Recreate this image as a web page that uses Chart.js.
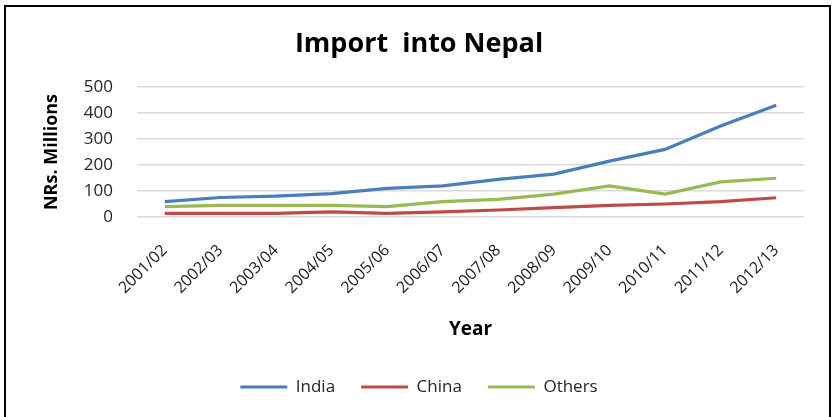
<!DOCTYPE html>
<html>
<head>
<meta charset="utf-8">
<script src="https://cdn.jsdelivr.net/npm/chart.js@4"></script>
<style>
  html, body { margin: 0; padding: 0; background: #fff; }
  #wrap { position: relative; width: 832px; height: 417px; overflow: hidden; }
  #frame { position: absolute; left: 4px; top: 5px; width: 823px; height: 430px; border: 2px solid #000; pointer-events: none; box-sizing: content-box; }
  canvas { position: absolute; left: 0; top: 0; }
</style>
</head>
<body>
<div id="wrap">
  <canvas id="c" width="832" height="417"></canvas>
  <div id="frame"></div>
</div>
<script>
const categories = ['2001/02','2002/03','2003/04','2004/05','2005/06','2006/07','2007/08','2008/09','2009/10','2010/11','2011/12','2012/13'];
const india  = [59, 75, 80, 90, 110, 120, 145, 165, 215, 260, 350, 430];
const china  = [14, 14, 14, 20, 14, 20, 27, 36, 45, 50, 59, 74];
const others = [40, 45, 45, 45, 40, 59, 68, 88, 120, 88, 135, 149];
const yTicks = [0, 100, 200, 300, 400, 500];

const FONT = "'Open Sans', 'Liberation Sans', sans-serif";

new Chart(document.getElementById('c'), {
  type: 'line',
  data: {
    labels: categories,
    datasets: [
      { label: 'India', data: india, borderColor: '#4A7EBB', backgroundColor: '#4A7EBB', borderWidth: 3.2, pointRadius: 0, tension: 0 },
      { label: 'China', data: china, borderColor: '#BE4B48', backgroundColor: '#BE4B48', borderWidth: 3.2, pointRadius: 0, tension: 0 },
      { label: 'Others', data: others, borderColor: '#98B954', backgroundColor: '#98B954', borderWidth: 3.2, pointRadius: 0, tension: 0 }
    ]
  },
  options: {
    responsive: false,
    animation: false,
    layout: { padding: { left: 34, right: 28, top: 0, bottom: 11.5 } },
    plugins: {
      title: {
        display: true,
        text: 'Import  into Nepal',
        color: '#000',
        font: { family: FONT, size: 27, weight: 'bold', lineHeight: 1.2 },
        padding: { top: 27.8, bottom: 26.8 }
      },
      legend: {
        position: 'bottom',
        labels: {
          usePointStyle: true,
          pointStyle: 'line',
          pointStyleWidth: 47,
          padding: 26,
          color: '#262626',
          font: { family: FONT, size: 17 }
        }
      },
      tooltip: { enabled: false }
    },
    scales: {
      x: {
        offset: true,
        grid: { display: false, drawTicks: false },
        border: { display: false },
        ticks: {
          autoSkip: false,
          minRotation: 45,
          maxRotation: 45,
          padding: 24,
          color: '#1a1a1a',
          font: { family: FONT, size: 16 }
        },
        title: {
          display: true,
          text: 'Year',
          color: '#000',
          font: { family: FONT, size: 19, weight: 'bold', lineHeight: 1.2 },
          padding: { top: 0, bottom: 11.1 }
        },
        afterFit: (s) => { s.height = 135.5; }
      },
      y: {
        min: 0,
        max: 500,
        afterBuildTicks: (s) => { s.ticks = yTicks.map(v => ({ value: v })); },
        grid: { color: '#D9D9D9', lineWidth: 1.5, drawTicks: false },
        border: { display: false },
        ticks: {
          padding: 24,
          color: '#262626',
          font: { family: FONT, size: 17 }
        },
        title: {
          display: true,
          text: 'NRs. Millions',
          color: '#000',
          font: { family: FONT, size: 18, weight: 'bold', lineHeight: 1.2 },
          padding: { top: 7.2, bottom: 0 }
        },
        afterFit: (s) => { s.width = 103; }
      }
    }
  }
});
</script>
</body>
</html>
